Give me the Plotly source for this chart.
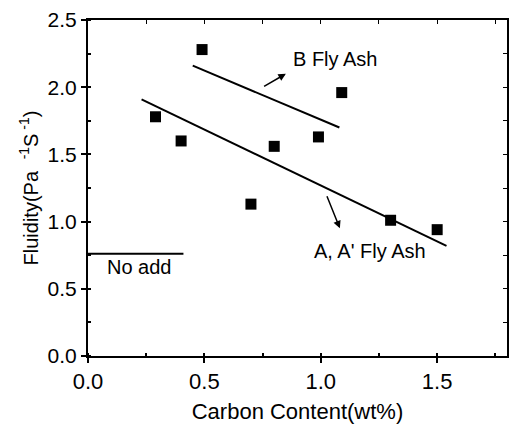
import plotly.graph_objects as go

# Data
carbon = [0.29, 0.40, 0.49, 0.70, 0.80, 0.99, 1.09, 1.30, 1.50]
fluidity = [1.78, 1.60, 2.28, 1.13, 1.56, 1.63, 1.96, 1.01, 0.94]

line_a_x = [0.23, 1.54]
line_a_y = [1.91, 0.82]
line_b_x = [0.45, 1.08]
line_b_y = [2.16, 1.70]
noadd_x = [0.0, 0.41]
noadd_y = [0.76, 0.76]

x_ticks = [0.0, 0.5, 1.0, 1.5]
y_ticks = [0.0, 0.5, 1.0, 1.5, 2.0, 2.5]

FONT = "Liberation Sans, Arial, sans-serif"

fig = go.Figure()
fig.add_trace(go.Scatter(x=carbon, y=fluidity, mode="markers",
                         marker=dict(symbol="square", size=11, color="black"),
                         showlegend=False))
for lx, ly in [(line_a_x, line_a_y), (line_b_x, line_b_y), (noadd_x, noadd_y)]:
    fig.add_trace(go.Scatter(x=lx, y=ly, mode="lines",
                             line=dict(color="black", width=2), showlegend=False))

# invisible trace on mirror axes so they render
fig.add_trace(go.Scatter(x=[0], y=[0], xaxis="x2", yaxis="y2", mode="markers",
                         marker=dict(opacity=0), showlegend=False, hoverinfo="skip"))

fig.update_layout(
    width=515, height=437,
    margin=dict(l=88, r=8, t=13, b=81),
    paper_bgcolor="white", plot_bgcolor="white",
    font=dict(family=FONT, color="black"),
    xaxis=dict(range=[0, 1.8], tickvals=x_ticks, ticktext=[f"{v:.1f}" for v in x_ticks],
               ticks="outside", ticklen=5, tickwidth=1.5, tickcolor="black",
               minor=dict(ticks="inside", ticklen=3, dtick=0.25, tickcolor="black"),
               showline=True, linecolor="black", linewidth=2, showgrid=False, zeroline=False,
               tickfont=dict(size=22, family=FONT),
               title=dict(text="Carbon Content(wt%)", font=dict(size=22, family=FONT), standoff=10)),
    yaxis=dict(range=[0, 2.5], tickvals=y_ticks, ticktext=[f"{v:.1f}" for v in y_ticks],
               ticks="outside", ticklen=5, tickwidth=1.5, tickcolor="black",
               minor=dict(ticks="inside", ticklen=3, dtick=0.25, tickcolor="black"),
               showline=True, linecolor="black", linewidth=2, showgrid=False, zeroline=False,
               tickfont=dict(size=21, family=FONT),
               title=dict(text="Fluidity(Pa<sup>   -1</sup>S<sup> -1</sup>)",
                          font=dict(size=20, family=FONT), standoff=4)),
    xaxis2=dict(range=[0, 1.8], overlaying="x", side="top", tickvals=[0.25 * i for i in range(8)],
                ticks="inside", ticklen=4, tickcolor="black", showticklabels=False,
                showline=True, linecolor="black", linewidth=2, showgrid=False, zeroline=False),
    yaxis2=dict(range=[0, 2.5], overlaying="y", side="right", tickvals=[0.25 * i for i in range(11)],
                ticks="inside", ticklen=4, tickcolor="black", showticklabels=False,
                showline=True, linecolor="black", linewidth=2, showgrid=False, zeroline=False),
)

fig.add_annotation(x=1.06, y=2.21, text="B Fly Ash", showarrow=False,
                   font=dict(size=20, family=FONT, color="black"))
fig.add_annotation(x=0.85, y=2.10, ax=0.75, ay=2.00, axref="x", ayref="y", xref="x", yref="y",
                   text="", showarrow=True, arrowhead=2, arrowsize=1, arrowwidth=1.5, arrowcolor="black")
fig.add_annotation(x=1.21, y=0.78, text="A, A' Fly Ash", showarrow=False,
                   font=dict(size=20, family=FONT, color="black"))
fig.add_annotation(x=1.082, y=0.95, ax=1.024, ay=1.20, axref="x", ayref="y", xref="x", yref="y",
                   text="", showarrow=True, arrowhead=2, arrowsize=1, arrowwidth=1.5, arrowcolor="black")
fig.add_annotation(x=0.22, y=0.665, text="No add", showarrow=False,
                   font=dict(size=20, family=FONT, color="black"))

fig.write_html("out.html")
